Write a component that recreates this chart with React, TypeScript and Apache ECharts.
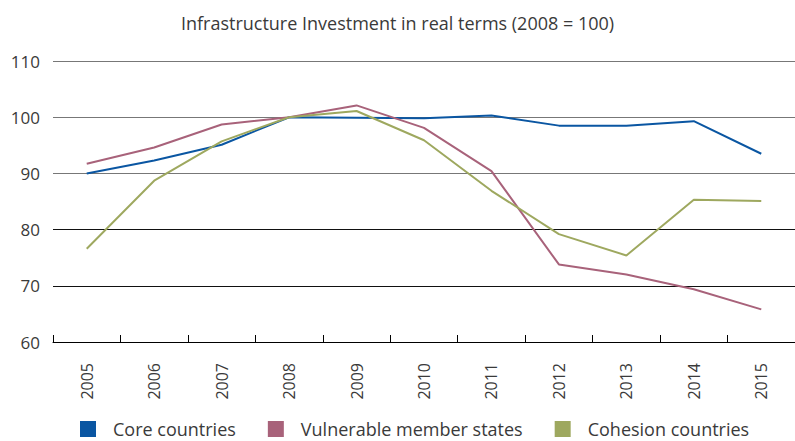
import React, { useEffect, useRef } from "react";
import * as echarts from "echarts";

const years = ["2005", "2006", "2007", "2008", "2009", "2010", "2011", "2012", "2013", "2014", "2015"];
const coreCountries = [90.0, 92.3, 95.1, 100.0, 99.9, 99.8, 100.3, 98.5, 98.5, 99.3, 93.5];
const vulnerableStates = [91.7, 94.6, 98.7, 100.0, 102.1, 98.1, 90.4, 73.8, 72.0, 69.4, 65.8];
const cohesionCountries = [76.6, 88.7, 95.7, 100.0, 101.1, 95.9, 86.9, 79.2, 75.4, 85.3, 85.1];

const FONT = "'Open Sans', 'Noto Sans', sans-serif";
const TEXT = "#3a3a3a";

export default function App() {
  const ref = useRef<HTMLDivElement>(null);
  useEffect(() => {
    if (!ref.current) return;
    const chart = echarts.init(ref.current, undefined, { renderer: "svg" });
    chart.setOption({
      animation: false,
      backgroundColor: "#fff",
      title: {
        text: "Infrastructure Investment in real terms (2008 = 100)",
        left: "center",
        top: 9,
        textStyle: { fontFamily: FONT, fontSize: 18, fontWeight: "normal", color: TEXT },
      },
      grid: { left: 53, top: 61, bottom: 99, right: -10, containLabel: false },
      legend: {
        left: 80,
        top: 420,
        padding: 0,
        icon: "rect",
        itemWidth: 16,
        itemHeight: 16,
        itemGap: 32,
        textStyle: { fontFamily: FONT, fontSize: 18, lineHeight: 18, color: TEXT, padding: [0, 0, 0, 12] },
        data: ["Core countries", "Vulnerable member states", "Cohesion countries"],
      },
      xAxis: {
        type: "category",
        data: years,
        boundaryGap: true,
        axisLine: { show: true, lineStyle: { color: "#000", width: 1 } },
        axisTick: { show: true, inside: true, length: 7, lineStyle: { color: "#000" } },
        axisLabel: { rotate: 90, margin: 21, fontFamily: FONT, fontSize: 16, color: TEXT },
      },
      yAxis: {
        type: "value",
        min: 60,
        max: 110,
        interval: 10,
        axisLine: { show: false },
        axisTick: { show: false },
        axisLabel: { margin: 13, fontFamily: FONT, fontSize: 17, color: TEXT },
        splitLine: {
          show: true,
          lineStyle: { color: ["#000", "#111", "#111", "#777", "#777", "#777"], width: 1 },
        },
      },
      series: [
        {
          name: "Core countries",
          type: "line",
          data: coreCountries,
          showSymbol: false,
          symbol: "none",
          color: "#0a56a2",
          lineStyle: { width: 2, color: "#0a56a2" },
        },
        {
          name: "Vulnerable member states",
          type: "line",
          data: vulnerableStates,
          showSymbol: false,
          symbol: "none",
          color: "#a8627a",
          lineStyle: { width: 2, color: "#a8627a" },
        },
        {
          name: "Cohesion countries",
          type: "line",
          data: cohesionCountries,
          showSymbol: false,
          symbol: "none",
          color: "#9ea85f",
          lineStyle: { width: 2, color: "#9ea85f" },
        },
      ],
    });
    return () => chart.dispose();
  }, []);
  return <div ref={ref} style={{ width: 795, height: 441, position: "absolute", left: 0, top: 0 }} />;
}
